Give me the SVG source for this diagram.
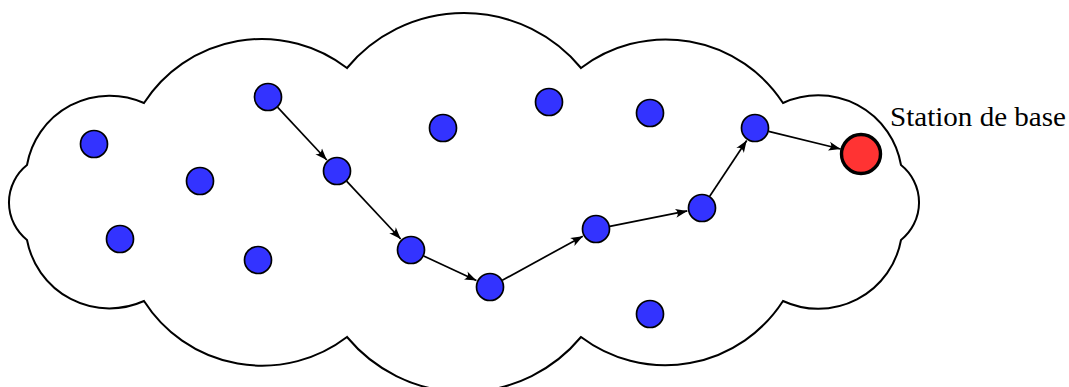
<svg xmlns="http://www.w3.org/2000/svg" width="1069" height="387" viewBox="0 0 1069 387">
<style>
.cloud{fill:#fff;stroke:#000;stroke-width:2;stroke-linejoin:miter}
.node{fill:#3333ff;stroke:#000;stroke-width:1.7}
.base{fill:#ff3333;stroke:#000;stroke-width:3.4}
.edge{stroke:#000;stroke-width:1.7;fill:none;marker-end:url(#arr)}
.lbl{font-family:"Liberation Serif","DejaVu Serif",serif;font-size:28px;fill:#000}
</style>
<defs>
<marker id="arr" markerUnits="userSpaceOnUse" markerWidth="13" markerHeight="10" refX="12" refY="5" orient="auto">
<path d="M0,0.5 Q4.5,5 0,9.5 L12,5 Z" fill="#000"/>
</marker>
</defs>
<g id="cloud">
<path class="cloud" d="M27,165 A84,84 0 0 1 144,103 A140,140 0 0 1 347,68 A152,152 0 0 1 581,68 A140,140 0 0 1 783,103 A84,84 0 0 1 901,165 A48,48 0 0 1 901,240 A84,84 0 0 1 783,301 A140,140 0 0 1 581,337 A152,152 0 0 1 347,337 A140,140 0 0 1 144,301 A84,84 0 0 1 27,240 A48,48 0 0 1 27,165 Z"/>
</g>
<g id="connectors">
<line class="edge" x1="277.5" y1="107.2" x2="326.8" y2="160.0"/>
<line class="edge" x1="346.6" y1="181.2" x2="400.7" y2="239.0"/>
<line class="edge" x1="423.7" y1="255.9" x2="476.4" y2="280.6"/>
<line class="edge" x1="502.3" y1="280.3" x2="582.8" y2="236.2"/>
<line class="edge" x1="609.7" y1="226.3" x2="687.3" y2="210.9"/>
<line class="edge" x1="709.7" y1="196.3" x2="746.7" y2="140.5"/>
<line class="edge" x1="768.6" y1="131.3" x2="840.6" y2="149.0"/>
</g>
<g id="n1"><circle class="node" cx="94" cy="144" r="13.5"/></g>
<g id="n2"><circle class="node" cx="200" cy="181" r="13.5"/></g>
<g id="n3"><circle class="node" cx="268" cy="97" r="13.5"/></g>
<g id="n4"><circle class="node" cx="337" cy="171" r="13.5"/></g>
<g id="n5"><circle class="node" cx="120" cy="239" r="13.5"/></g>
<g id="n6"><circle class="node" cx="258" cy="260" r="13.5"/></g>
<g id="n7"><circle class="node" cx="443" cy="128" r="13.5"/></g>
<g id="n8"><circle class="node" cx="549" cy="102" r="13.5"/></g>
<g id="n9"><circle class="node" cx="650" cy="113" r="13.5"/></g>
<g id="n10"><circle class="node" cx="411" cy="250" r="13.5"/></g>
<g id="n11"><circle class="node" cx="490" cy="287" r="13.5"/></g>
<g id="n12"><circle class="node" cx="596" cy="229" r="13.5"/></g>
<g id="n13"><circle class="node" cx="650" cy="314" r="13.5"/></g>
<g id="n14"><circle class="node" cx="702" cy="208" r="13.5"/></g>
<g id="n15"><circle class="node" cx="755" cy="128" r="13.5"/></g>
<g id="base"><circle class="base" cx="861" cy="154" r="19.5"/></g>
<g id="label"><text class="lbl" x="890" y="126" textLength="176" lengthAdjust="spacingAndGlyphs">Station de base</text></g>
</svg>
